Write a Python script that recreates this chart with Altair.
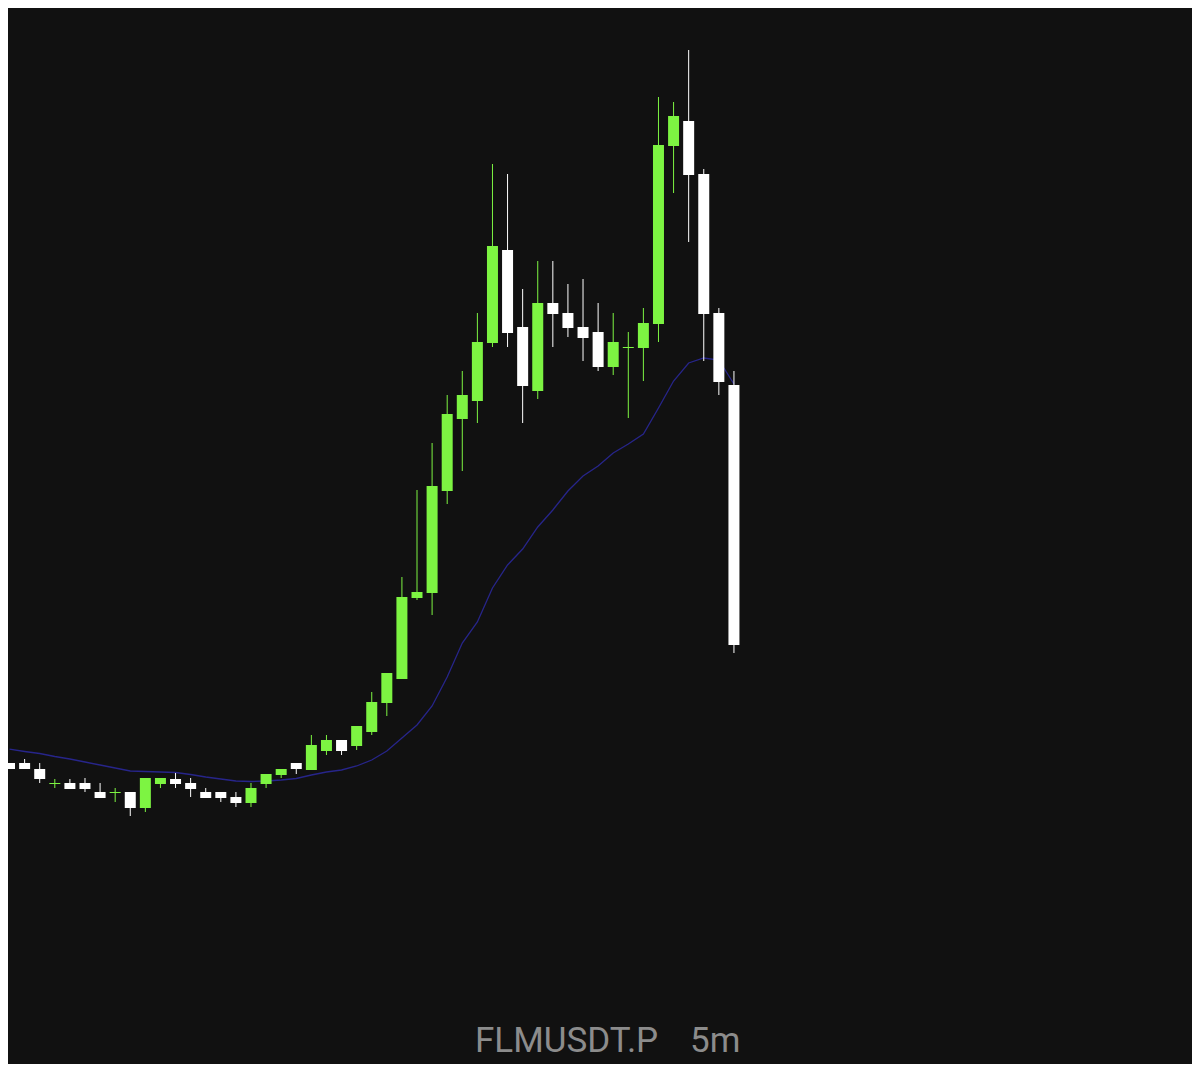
import altair as alt
import pandas as pd

# 5m candles (price units)
opens = [0.05037, 0.05037, 0.05031, 0.05016, 0.05017, 0.05017, 0.05008, 0.05007, 0.05008, 0.04992,
         0.05016, 0.05021, 0.05017, 0.05008, 0.05008, 0.05003, 0.04997, 0.05016, 0.05025, 0.05037,
         0.05030, 0.05049, 0.05060, 0.05054, 0.05068, 0.05097, 0.05121, 0.05202, 0.05207, 0.05309,
         0.05381, 0.05399, 0.05457, 0.05550, 0.05473, 0.05409, 0.05497, 0.05487, 0.05473, 0.05468,
         0.05433, 0.05452, 0.05452, 0.05476, 0.05654, 0.05679, 0.05626, 0.05487, 0.05415]
highs = [0.05037, 0.05041, 0.05037, 0.05021, 0.05021, 0.05022, 0.05017, 0.05012, 0.05008, 0.05022,
         0.05022, 0.05027, 0.05022, 0.05012, 0.05008, 0.05008, 0.05017, 0.05026, 0.05031, 0.05037,
         0.05065, 0.05065, 0.05060, 0.05074, 0.05108, 0.05127, 0.05223, 0.05310, 0.05357, 0.05405,
         0.05429, 0.05487, 0.05636, 0.05626, 0.05511, 0.05539, 0.05539, 0.05516, 0.05521, 0.05497,
         0.05487, 0.05468, 0.05492, 0.05703, 0.05698, 0.05750, 0.05631, 0.05492, 0.05429]
lows = [0.05031, 0.05031, 0.05017, 0.05012, 0.05011, 0.05008, 0.05002, 0.04998, 0.04984, 0.04988,
        0.05012, 0.05012, 0.05003, 0.05002, 0.04998, 0.04993, 0.04993, 0.05012, 0.05022, 0.05026,
        0.05030, 0.05045, 0.05045, 0.05050, 0.05065, 0.05084, 0.05121, 0.05200, 0.05185, 0.05296,
        0.05329, 0.05377, 0.05453, 0.05453, 0.05377, 0.05401, 0.05453, 0.05463, 0.05439, 0.05429,
        0.05425, 0.05382, 0.05419, 0.05458, 0.05607, 0.05558, 0.05439, 0.05405, 0.05147]
closes = [0.05031, 0.05031, 0.05021, 0.05017, 0.05011, 0.05011, 0.05002, 0.05008, 0.04992, 0.05022,
          0.05022, 0.05016, 0.05011, 0.05002, 0.05002, 0.04997, 0.05012, 0.05026, 0.05031, 0.05031,
          0.05055, 0.05060, 0.05049, 0.05074, 0.05098, 0.05127, 0.05203, 0.05208, 0.05314, 0.05386,
          0.05405, 0.05458, 0.05554, 0.05467, 0.05414, 0.05497, 0.05486, 0.05472, 0.05462, 0.05433,
          0.05458, 0.05453, 0.05477, 0.05655, 0.05684, 0.05625, 0.05486, 0.05418, 0.05155]
# moving average line
ma = [0.050508, 0.050485, 0.050465, 0.050435, 0.05041, 0.05038, 0.05035, 0.05032, 0.05029, 0.050285,
      0.05028, 0.050275, 0.050255, 0.05023, 0.05021, 0.05019, 0.050185, 0.05019, 0.05020, 0.050215,
      0.05025, 0.05028, 0.05030, 0.05034, 0.05040, 0.05049, 0.05062, 0.05075, 0.05094, 0.05123,
      0.05157, 0.05178, 0.05212, 0.05235, 0.05251, 0.05273, 0.05290, 0.05309, 0.05324, 0.05334,
      0.05347, 0.05356, 0.05366, 0.05392, 0.05419, 0.05437, 0.05442, 0.05440, 0.05416]
symbol = "FLMUSDT.P"
interval = "5m"

GREEN = "#7df442"
WHITE = "#ffffff"
BG = "#111111"

df = pd.DataFrame({
    "i": list(range(len(opens))),
    "open": opens, "high": highs, "low": lows, "close": closes, "ma": ma,
})
df["dir"] = ["up" if c > o else "down" for o, c in zip(opens, closes)]

W, H = 1184, 1056
xs = alt.Scale(domain=[0.23, 78.02], nice=False, zero=False)
ys = alt.Scale(domain=[0.04736, 0.05792], nice=False, zero=False)
col = alt.Color("dir:N", scale=alt.Scale(domain=["up", "down"], range=[GREEN, WHITE]), legend=None)

base = alt.Chart(df)

line = base.mark_line(color="#27258a", strokeWidth=1.3).encode(
    x=alt.X("i:Q", scale=xs, axis=None),
    y=alt.Y("ma:Q", scale=ys, axis=None),
)

wicks = base.mark_rule(strokeWidth=1).encode(
    x=alt.X("i:Q", scale=xs, axis=None),
    y=alt.Y("low:Q", scale=ys, axis=None),
    y2="high:Q",
    color=col,
)

bodies = base.mark_bar(size=11, minBandSize=1).encode(
    x=alt.X("i:Q", scale=xs, axis=None),
    y=alt.Y("open:Q", scale=ys, axis=None),
    y2="close:Q",
    color=col,
)

t1 = alt.Chart(pd.DataFrame({"t": [symbol]})).mark_text(
    font="Roboto", fontSize=35, color="#8c8c8c", align="left", baseline="alphabetic"
).encode(text="t:N", x=alt.value(467), y=alt.value(1044))

t2 = alt.Chart(pd.DataFrame({"t": [interval]})).mark_text(
    font="Roboto", fontSize=35, color="#8c8c8c", align="left", baseline="alphabetic"
).encode(text="t:N", x=alt.value(682), y=alt.value(1044))

chart = alt.layer(line, wicks, bodies, t1, t2).properties(
    width=W, height=H, padding=0, background=BG,
    autosize=alt.AutoSizeParams(type="none"),
).configure_view(stroke=None, fill=BG)

chart.save("out.html", embed_options={"renderer": "svg", "actions": False})
